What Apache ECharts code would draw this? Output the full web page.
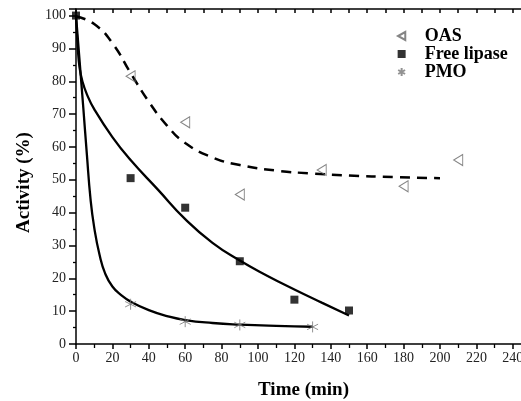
<!DOCTYPE html>
<html>
<head>
<meta charset="utf-8">
<script src="https://cdn.jsdelivr.net/npm/echarts@6/dist/echarts.min.js"></script>
<style>html,body{margin:0;padding:0;background:#fff}#c{width:521px;height:401px}</style>
</head>
<body>
<div id="c"></div>
<script>
// Measured points [time (min), activity (%)]
const oasPoints = [[30,81.5],[60,67.5],[90,45.5],[135,53],[180,48],[210,56]];
const freePoints = [[0,100],[30,50.5],[60,41.5],[90,25.2],[120,13.5],[150,10.2]];
const pmoPoints = [[30,12.1],[60,6.8],[90,5.8],[130,5.2]];
// Fitted curves
const oasFit = [[0,99.8],[10,97.4],[20,91.6],[30,82.5],[40,73.8],[50,66.5],[60,61.2],[75,56.8],[90,54.5],[110,52.8],[130,51.9],[150,51.3],[175,50.8],[200,50.5]];
const freeFit = [[0,100],[1,90],[2,84],[3.5,80],[6,76],[10,71.5],[20,63],[30,56],[45,47],[60,38],[75,30.8],[90,25.4],[105,20.8],[120,16.6],[135,12.6],[150,8.7]];
const pmoFit = [[0,100],[2,86],[4,72],[6,57.5],[8,44],[10,35.5],[13,27],[16,21.5],[20,17.5],[25,14.8],[30,12.9],[40,10.3],[50,8.5],[60,7.3],[75,6.4],[90,5.9],[110,5.5],[130,5.25]];
const seriesNames = ['OAS','Free lipase','PMO'];

const serif = "'Liberation Serif','DejaVu Serif',serif";
const chart = echarts.init(document.getElementById('c'), null, {renderer:'canvas'});
const triPath = 'path://M10,0L0,5.5L10,11Z';
const starPath = 'path://M5,0L5,10M0.7,2.5L9.3,7.5M0.7,7.5L9.3,2.5';
const lineStyleBlack = {color:'#000', width:1.5};
chart.setOption({
  animation:false,
  grid:{left:76, right:-10, top:9, bottom:57, containLabel:false, outerBoundsMode:'none'},
  legend:{
    orient:'vertical', left:392, top:22, itemGap:0, itemWidth:8, itemHeight:8,
    data:seriesNames,
    textStyle:{fontFamily:serif, fontWeight:'bold', fontSize:18, lineHeight:18, height:18, color:'#000', padding:[0,0,0,14]}
  },
  xAxis:[{
    type:'value', min:0, max:250, interval:20, position:'bottom',
    name:'Time (min)', nameLocation:'middle', nameGap:37,
    nameTextStyle:{fontFamily:serif, fontWeight:'bold', fontSize:19, color:'#000'},
    axisLine:{show:true, onZero:false, lineStyle:lineStyleBlack},
    axisTick:{show:true, inside:false, length:5, lineStyle:lineStyleBlack},
    minorTick:{show:true, splitNumber:2, length:4, lineStyle:{color:'#000', width:1.3}},
    axisLabel:{fontFamily:serif, fontSize:14, color:'#222', margin:7, showMaxLabel:false},
    splitLine:{show:false}
  },{
    type:'value', min:0, max:250, interval:10, position:'top',
    axisLine:{show:true, onZero:false, lineStyle:lineStyleBlack},
    axisTick:{show:true, inside:true, length:4, lineStyle:lineStyleBlack},
    axisLabel:{show:false}, splitLine:{show:false}
  }],
  yAxis:[{
    type:'value', min:0, max:102, interval:10, position:'left',
    name:'Activity (%)', nameLocation:'middle', nameGap:42, nameRotate:90,
    nameTextStyle:{fontFamily:serif, fontWeight:'bold', fontSize:19, color:'#000', padding:[0,12,0,0]},
    axisLine:{show:true, onZero:false, lineStyle:lineStyleBlack},
    axisTick:{show:true, inside:false, length:7, lineStyle:lineStyleBlack},
    minorTick:{show:true, splitNumber:2, length:3, lineStyle:{color:'#000', width:1.3}},
    axisLabel:{fontFamily:serif, fontSize:14, color:'#222', margin:10, showMaxLabel:false},
    splitLine:{show:false}
  }],
  series:[
    {name:'OASfit', type:'line', data:oasFit, showSymbol:false, smooth:0.5,
     lineStyle:{color:'#000', width:2.5, type:[10,7]}, silent:true, z:2},
    {name:'Freefit', type:'line', data:freeFit, showSymbol:false, smooth:0.5,
     lineStyle:{color:'#000', width:2.3}, silent:true, z:2},
    {name:'PMOfit', type:'line', data:pmoFit, showSymbol:false, smooth:0.5,
     lineStyle:{color:'#000', width:2.3}, silent:true, z:2},
    {name:'OAS', type:'scatter', data:oasPoints, symbol:triPath, symbolSize:[9,11],
     itemStyle:{color:'rgba(255,255,255,0)', borderColor:'#666', borderWidth:1}, z:3},
    {name:'Free lipase', type:'scatter', data:freePoints, symbol:'rect', symbolSize:8,
     itemStyle:{color:'#000'}, z:4},
    {name:'PMO', type:'scatter', data:pmoPoints, symbol:starPath, symbolSize:11,
     itemStyle:{color:'rgba(255,255,255,0)', borderColor:'#777', borderWidth:1}, z:3}
  ]
});
</script>
</body>
</html>
